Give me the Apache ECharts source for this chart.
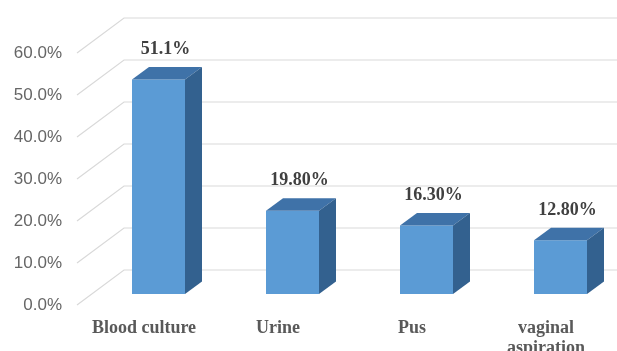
<!DOCTYPE html>
<html>
<head>
<meta charset="utf-8">
<script src="https://cdn.jsdelivr.net/npm/echarts@6/dist/echarts.min.js"></script>
<style>html,body{margin:0;padding:0;background:#fff;}#c{width:617px;height:351px;}</style>
</head>
<body>
<div id="c"></div>
<script>
var categories = ['Blood culture', 'Urine', 'Pus', 'vaginal\naspiration'];
var values = [51.1, 19.8, 16.3, 12.8];
var valueLabels = ['51.1%', '19.80%', '16.30%', '12.80%'];
var yTicks = [0, 10, 20, 30, 40, 50, 60];
var yTickLabels = ['0.0%', '10.0%', '20.0%', '30.0%', '40.0%', '50.0%', '60.0%'];

// perspective offsets (pixels)
var WALL_DX = 47, WALL_DY = -35;   // front floor edge -> back wall
var BAR_DX = 14.5, BAR_DY = -11;   // front floor edge -> bar front face
var DEPTH_DX = 17, DEPTH_DY = -12.5; // bar depth
var HALF_W = 26.5;

var chart = echarts.init(document.getElementById('c'), null, {renderer: 'canvas'});
chart.setOption({
  animation: false,
  backgroundColor: '#ffffff',
  grid: {left: 77, right: 4, top: 53, bottom: 46, containLabel: false, outerBoundsMode: 'none'},
  xAxis: {
    type: 'category',
    data: categories,
    axisLine: {show: false},
    axisTick: {show: false},
    axisLabel: {
      interval: 0, margin: 13,
      fontFamily: '"Liberation Serif", "Times New Roman", serif',
      fontWeight: 'bold', fontSize: 18, lineHeight: 20, color: '#595959'
    }
  },
  yAxis: {
    type: 'value', min: 0, max: 60, interval: 10,
    axisLine: {show: false},
    axisTick: {show: false},
    splitLine: {show: false},
    axisLabel: {
      margin: 15,
      fontFamily: '"Liberation Sans", Arial, sans-serif',
      fontSize: 17, color: '#666666',
      formatter: function (v) { return yTickLabels[yTicks.indexOf(v)]; }
    }
  },
  series: [
    {
      type: 'custom',
      z: 1,
      clip: false,
      data: yTicks.map(function (v) { return [0, v]; }),
      encode: {x: 0, y: 1},
      renderItem: function (params, api) {
        var p = api.coord([0, api.value(1)]);
        var bw = api.size([1, 0])[0];
        var left = p[0] - bw / 2;
        var y = p[1];
        var right = params.coordSys.x + params.coordSys.width + WALL_DX + 20;
        return {
          type: 'polyline',
          shape: {points: [[left, y], [left + WALL_DX, y + WALL_DY], [right, y + WALL_DY]]},
          style: {stroke: '#d9d9d9', lineWidth: 1.2, fill: null}
        };
      }
    },
    {
      type: 'custom',
      z: 2,
      clip: false,
      data: values.map(function (v, i) { return [i, v]; }),
      encode: {x: 0, y: 1},
      renderItem: function (params, api) {
        var i = api.value(0);
        var base = api.coord([i, 0]);
        var top = api.coord([i, api.value(1)]);
        var cx = base[0] + BAR_DX;
        var yb = base[1] + BAR_DY;
        var yt = top[1] + BAR_DY;
        var x0 = cx - HALF_W, x1 = cx + HALF_W;
        return {
          type: 'group',
          children: [
            {type: 'polygon', shape: {points: [[x0, yb], [x1, yb], [x1, yt], [x0, yt]]},
             style: {fill: '#5b9bd5'}},
            {type: 'polygon', shape: {points: [[x0, yt], [x1, yt], [x1 + DEPTH_DX, yt + DEPTH_DY], [x0 + DEPTH_DX, yt + DEPTH_DY]]},
             style: {fill: '#3f72a8'}},
            {type: 'polygon', shape: {points: [[x1, yb], [x1 + DEPTH_DX, yb + DEPTH_DY], [x1 + DEPTH_DX, yt + DEPTH_DY], [x1, yt]]},
             style: {fill: '#33618f'}},
            {type: 'text', style: {
              x: cx + 7, y: yt - 30, text: valueLabels[i],
              textAlign: 'center', textVerticalAlign: 'middle',
              font: 'bold 18px "Liberation Serif", "Times New Roman", serif',
              fill: '#404040'
            }}
          ]
        };
      }
    }
  ]
});
</script>
</body>
</html>
